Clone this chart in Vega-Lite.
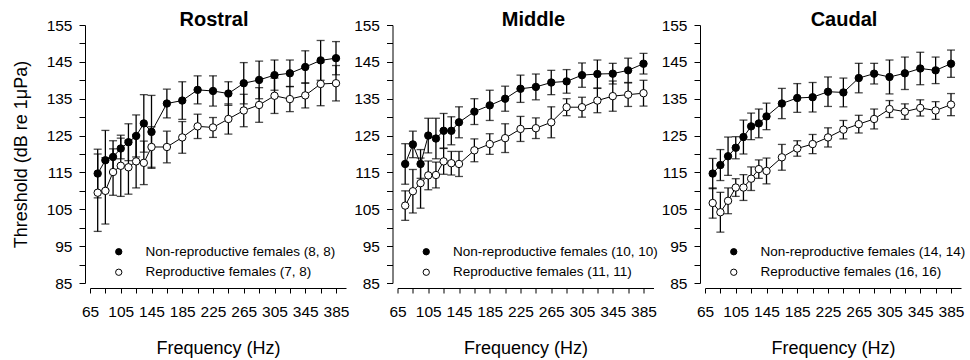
{
"$schema": "https://vega.github.io/schema/vega-lite/v6.json",
"background": "white",
"padding": {"left": 12, "top": 10, "right": 0, "bottom": 0},
"bounds": "flush",
"spacing": 51.5,
"config": {
  "view": {"stroke": null},
  "font": "Liberation Sans",
  "axis": {"grid": false, "domainColor": "black", "tickColor": "black", "labelColor": "black", "titleColor": "black", "labelFont": "Liberation Sans", "titleFont": "Liberation Sans", "labelFontSize": 15.5, "titleFontSize": 18, "titleFontWeight": "normal", "tickSize": 5, "domainWidth": 1, "tickWidth": 1, "offset": 5},
  "axisX": {"labelPadding": 11, "titlePadding": 20},
  "axisY": {"labelPadding": 7, "titlePadding": 15.5, "tickSize": 6},
  "title": {"font": "Liberation Sans", "fontSize": 20, "fontWeight": "bold", "color": "black", "frame": "group", "anchor": "middle", "offset": -12},
  "legend": {"orient": "none", "legendX": 22, "legendY": 220, "title": null, "symbolType": "circle", "symbolSize": 40, "symbolStrokeColor": "black", "symbolStrokeWidth": 1, "labelFontSize": 13.5, "labelFont": "Liberation Sans", "labelColor": "black", "labelOffset": 20, "rowPadding": 5.5, "padding": 0, "labelLimit": 400}
},
"datasets": {
  "rostral": [
    {"freq":75,"group":"Non-reproductive females","mean":114.7,"se":6.6},
    {"freq":85,"group":"Non-reproductive females","mean":118.3,"se":8.1},
    {"freq":95,"group":"Non-reproductive females","mean":119.2,"se":4.4},
    {"freq":105,"group":"Non-reproductive females","mean":121.5,"se":2.8},
    {"freq":115,"group":"Non-reproductive females","mean":123.2,"se":5.0},
    {"freq":125,"group":"Non-reproductive females","mean":124.9,"se":5.7},
    {"freq":135,"group":"Non-reproductive females","mean":128.3,"se":7.8},
    {"freq":145,"group":"Non-reproductive females","mean":126.0,"se":9.9},
    {"freq":165,"group":"Non-reproductive females","mean":133.7,"se":3.9},
    {"freq":185,"group":"Non-reproductive females","mean":134.5,"se":5.1},
    {"freq":205,"group":"Non-reproductive females","mean":137.4,"se":3.8},
    {"freq":225,"group":"Non-reproductive females","mean":137.1,"se":4.1},
    {"freq":245,"group":"Non-reproductive females","mean":136.4,"se":3.2},
    {"freq":265,"group":"Non-reproductive females","mean":139.2,"se":5.6},
    {"freq":285,"group":"Non-reproductive females","mean":140.1,"se":5.1},
    {"freq":305,"group":"Non-reproductive females","mean":141.4,"se":4.1},
    {"freq":325,"group":"Non-reproductive females","mean":141.9,"se":3.6},
    {"freq":345,"group":"Non-reproductive females","mean":143.6,"se":4.4},
    {"freq":365,"group":"Non-reproductive females","mean":145.4,"se":5.4},
    {"freq":385,"group":"Non-reproductive females","mean":146.0,"se":4.5},
    {"freq":75,"group":"Reproductive females","mean":109.5,"se":10.5},
    {"freq":85,"group":"Reproductive females","mean":110.0,"se":9.0},
    {"freq":95,"group":"Reproductive females","mean":115.1,"se":6.3},
    {"freq":105,"group":"Reproductive females","mean":116.8,"se":8.3},
    {"freq":115,"group":"Reproductive females","mean":116.4,"se":7.3},
    {"freq":125,"group":"Reproductive females","mean":118.0,"se":7.2},
    {"freq":135,"group":"Reproductive females","mean":117.6,"se":5.9},
    {"freq":145,"group":"Reproductive females","mean":121.9,"se":5.5},
    {"freq":165,"group":"Reproductive females","mean":121.9,"se":4.3},
    {"freq":185,"group":"Reproductive females","mean":124.5,"se":4.3},
    {"freq":205,"group":"Reproductive females","mean":127.5,"se":3.3},
    {"freq":225,"group":"Reproductive females","mean":127.2,"se":2.7},
    {"freq":245,"group":"Reproductive females","mean":129.5,"se":4.1},
    {"freq":265,"group":"Reproductive females","mean":131.8,"se":4.4},
    {"freq":285,"group":"Reproductive females","mean":133.3,"se":4.7},
    {"freq":305,"group":"Reproductive females","mean":135.8,"se":4.8},
    {"freq":325,"group":"Reproductive females","mean":134.9,"se":3.4},
    {"freq":345,"group":"Reproductive females","mean":135.9,"se":3.4},
    {"freq":365,"group":"Reproductive females","mean":139.0,"se":5.9},
    {"freq":385,"group":"Reproductive females","mean":139.2,"se":4.8}
  ],
  "middle": [
    {"freq":75,"group":"Non-reproductive females","mean":117.3,"se":5.5},
    {"freq":85,"group":"Non-reproductive females","mean":122.6,"se":3.6},
    {"freq":95,"group":"Non-reproductive females","mean":117.3,"se":3.9},
    {"freq":105,"group":"Non-reproductive females","mean":125.0,"se":4.7},
    {"freq":115,"group":"Non-reproductive females","mean":124.2,"se":5.5},
    {"freq":125,"group":"Non-reproductive females","mean":126.3,"se":4.7},
    {"freq":135,"group":"Non-reproductive females","mean":126.3,"se":3.8},
    {"freq":145,"group":"Non-reproductive females","mean":128.6,"se":4.2},
    {"freq":165,"group":"Non-reproductive females","mean":131.5,"se":3.5},
    {"freq":185,"group":"Non-reproductive females","mean":133.2,"se":4.1},
    {"freq":205,"group":"Non-reproductive females","mean":135.0,"se":3.4},
    {"freq":225,"group":"Non-reproductive females","mean":137.7,"se":3.7},
    {"freq":245,"group":"Non-reproductive females","mean":138.2,"se":3.5},
    {"freq":265,"group":"Non-reproductive females","mean":139.4,"se":3.3},
    {"freq":285,"group":"Non-reproductive females","mean":139.7,"se":3.2},
    {"freq":305,"group":"Non-reproductive females","mean":141.4,"se":3.3},
    {"freq":325,"group":"Non-reproductive females","mean":141.7,"se":3.8},
    {"freq":345,"group":"Non-reproductive females","mean":141.8,"se":2.8},
    {"freq":365,"group":"Non-reproductive females","mean":142.7,"se":3.3},
    {"freq":385,"group":"Non-reproductive females","mean":144.5,"se":2.8},
    {"freq":75,"group":"Reproductive females","mean":106.0,"se":4.0},
    {"freq":85,"group":"Reproductive females","mean":109.9,"se":5.9},
    {"freq":95,"group":"Reproductive females","mean":112.1,"se":6.8},
    {"freq":105,"group":"Reproductive females","mean":114.2,"se":3.9},
    {"freq":115,"group":"Reproductive females","mean":114.3,"se":3.5},
    {"freq":125,"group":"Reproductive females","mean":118.0,"se":3.5},
    {"freq":135,"group":"Reproductive females","mean":117.5,"se":3.2},
    {"freq":145,"group":"Reproductive females","mean":117.3,"se":3.4},
    {"freq":165,"group":"Reproductive females","mean":121.0,"se":3.1},
    {"freq":185,"group":"Reproductive females","mean":122.7,"se":2.8},
    {"freq":205,"group":"Reproductive females","mean":124.3,"se":3.9},
    {"freq":225,"group":"Reproductive females","mean":126.8,"se":3.4},
    {"freq":245,"group":"Reproductive females","mean":127.0,"se":2.8},
    {"freq":265,"group":"Reproductive females","mean":128.6,"se":4.2},
    {"freq":285,"group":"Reproductive females","mean":132.7,"se":2.3},
    {"freq":305,"group":"Reproductive females","mean":132.7,"se":2.7},
    {"freq":325,"group":"Reproductive females","mean":134.5,"se":3.3},
    {"freq":345,"group":"Reproductive females","mean":135.7,"se":4.1},
    {"freq":365,"group":"Reproductive females","mean":136.1,"se":3.2},
    {"freq":385,"group":"Reproductive females","mean":136.5,"se":3.5}
  ],
  "caudal": [
    {"freq":75,"group":"Non-reproductive females","mean":114.7,"se":4.1},
    {"freq":85,"group":"Non-reproductive females","mean":117.0,"se":4.2},
    {"freq":95,"group":"Non-reproductive females","mean":119.4,"se":5.2},
    {"freq":105,"group":"Non-reproductive females","mean":121.7,"se":3.0},
    {"freq":115,"group":"Non-reproductive females","mean":124.6,"se":4.6},
    {"freq":125,"group":"Non-reproductive females","mean":127.5,"se":3.6},
    {"freq":135,"group":"Non-reproductive females","mean":128.3,"se":3.9},
    {"freq":145,"group":"Non-reproductive females","mean":130.2,"se":3.6},
    {"freq":165,"group":"Non-reproductive females","mean":133.7,"se":4.1},
    {"freq":185,"group":"Non-reproductive females","mean":135.2,"se":3.9},
    {"freq":205,"group":"Non-reproductive females","mean":135.4,"se":4.0},
    {"freq":225,"group":"Non-reproductive females","mean":136.9,"se":4.0},
    {"freq":245,"group":"Non-reproductive females","mean":136.7,"se":3.9},
    {"freq":265,"group":"Non-reproductive females","mean":140.6,"se":4.0},
    {"freq":285,"group":"Non-reproductive females","mean":141.8,"se":2.8},
    {"freq":305,"group":"Non-reproductive females","mean":140.9,"se":4.6},
    {"freq":325,"group":"Non-reproductive females","mean":141.9,"se":4.4},
    {"freq":345,"group":"Non-reproductive females","mean":143.2,"se":4.4},
    {"freq":365,"group":"Non-reproductive females","mean":142.7,"se":3.6},
    {"freq":385,"group":"Non-reproductive females","mean":144.5,"se":3.7},
    {"freq":75,"group":"Reproductive females","mean":106.7,"se":4.1},
    {"freq":85,"group":"Reproductive females","mean":104.2,"se":5.4},
    {"freq":95,"group":"Reproductive females","mean":107.3,"se":3.5},
    {"freq":105,"group":"Reproductive females","mean":110.9,"se":2.4},
    {"freq":115,"group":"Reproductive females","mean":110.9,"se":3.5},
    {"freq":125,"group":"Reproductive females","mean":113.3,"se":3.2},
    {"freq":135,"group":"Reproductive females","mean":115.9,"se":2.5},
    {"freq":145,"group":"Reproductive females","mean":115.4,"se":3.5},
    {"freq":165,"group":"Reproductive females","mean":119.1,"se":3.5},
    {"freq":185,"group":"Reproductive females","mean":121.5,"se":2.1},
    {"freq":205,"group":"Reproductive females","mean":122.7,"se":2.6},
    {"freq":225,"group":"Reproductive females","mean":124.5,"se":2.6},
    {"freq":245,"group":"Reproductive females","mean":126.6,"se":2.5},
    {"freq":265,"group":"Reproductive females","mean":128.1,"se":2.4},
    {"freq":285,"group":"Reproductive females","mean":129.5,"se":2.7},
    {"freq":305,"group":"Reproductive females","mean":132.2,"se":2.3},
    {"freq":325,"group":"Reproductive females","mean":131.5,"se":2.1},
    {"freq":345,"group":"Reproductive females","mean":132.5,"se":2.2},
    {"freq":365,"group":"Reproductive females","mean":131.8,"se":2.4},
    {"freq":385,"group":"Reproductive females","mean":133.4,"se":3.0}
  ]
},
"hconcat": [
  {
    "title": {"text": "Rostral", "dx": -4},
    "width": 256, "height": 258,
    "data": {"name": "rostral"},
    "encoding": {
      "x": {"field": "freq", "type": "quantitative", "scale": {"domain": [65, 398], "nice": false, "zero": false}, "axis": {"values": [65,85,105,125,145,165,185,205,225,245,265,285,305,325,345,365,385], "labelExpr": "(datum.value - 65) % 40 == 0 ? datum.label : ''", "title": "Frequency (Hz)", "labelFlush": false, "labelOverlap": false}},
      "y": {"field": "mean", "type": "quantitative", "scale": {"domain": [85, 155], "nice": false, "zero": false}, "axis": {"values": [85,90,95,100,105,110,115,120,125,130,135,140,145,150,155], "labelExpr": "datum.value % 10 == 5 ? datum.label : ''", "title": "Threshold (dB re 1μPa)", "labelOverlap": false}}
    },
    "layer": [
      {"mark": {"type": "errorbar", "ticks": true, "size": 8, "thickness": 1.3, "color": "black"}, "encoding": {"yError": {"field": "se"}, "detail": {"field": "group"}}},
      {"mark": {"type": "line", "color": "black", "strokeWidth": 1}, "encoding": {"detail": {"field": "group"}}},
      {"mark": {"type": "point", "filled": true, "size": 55, "stroke": "black", "strokeWidth": 1, "opacity": 1}, "encoding": {"fill": {"field": "group", "type": "nominal", "scale": {"domain": ["Non-reproductive females", "Reproductive females"], "range": ["black", "white"]}, "legend": {"labelExpr": "datum.label == 'Non-reproductive females' ? 'Non-reproductive females (8, 8)' : 'Reproductive females (7, 8)'"}}}}
    ]
  },
  {
    "title": {"text": "Middle", "dx": 8},
    "width": 256, "height": 258,
    "data": {"name": "middle"},
    "encoding": {
      "x": {"field": "freq", "type": "quantitative", "scale": {"domain": [65, 398], "nice": false, "zero": false}, "axis": {"values": [65,85,105,125,145,165,185,205,225,245,265,285,305,325,345,365,385], "labelExpr": "(datum.value - 65) % 40 == 0 ? datum.label : ''", "title": "Frequency (Hz)", "labelFlush": false, "labelOverlap": false}},
      "y": {"field": "mean", "type": "quantitative", "scale": {"domain": [85, 155], "nice": false, "zero": false}, "axis": {"values": [85,90,95,100,105,110,115,120,125,130,135,140,145,150,155], "labelExpr": "datum.value % 10 == 5 ? datum.label : ''", "title": null, "labelOverlap": false}}
    },
    "layer": [
      {"mark": {"type": "errorbar", "ticks": true, "size": 8, "thickness": 1.3, "color": "black"}, "encoding": {"yError": {"field": "se"}, "detail": {"field": "group"}}},
      {"mark": {"type": "line", "color": "black", "strokeWidth": 1}, "encoding": {"detail": {"field": "group"}}},
      {"mark": {"type": "point", "filled": true, "size": 55, "stroke": "black", "strokeWidth": 1, "opacity": 1}, "encoding": {"fill": {"field": "group", "type": "nominal", "scale": {"domain": ["Non-reproductive females", "Reproductive females"], "range": ["black", "white"]}, "legend": {"labelExpr": "datum.label == 'Non-reproductive females' ? 'Non-reproductive females (10, 10)' : 'Reproductive females (11, 11)'"}}}}
    ]
  },
  {
    "title": {"text": "Caudal", "dx": 11},
    "width": 256, "height": 258,
    "data": {"name": "caudal"},
    "encoding": {
      "x": {"field": "freq", "type": "quantitative", "scale": {"domain": [65, 398], "nice": false, "zero": false}, "axis": {"values": [65,85,105,125,145,165,185,205,225,245,265,285,305,325,345,365,385], "labelExpr": "(datum.value - 65) % 40 == 0 ? datum.label : ''", "title": "Frequency (Hz)", "labelFlush": false, "labelOverlap": false}},
      "y": {"field": "mean", "type": "quantitative", "scale": {"domain": [85, 155], "nice": false, "zero": false}, "axis": {"values": [85,90,95,100,105,110,115,120,125,130,135,140,145,150,155], "labelExpr": "datum.value % 10 == 5 ? datum.label : ''", "title": null, "labelOverlap": false}}
    },
    "layer": [
      {"mark": {"type": "errorbar", "ticks": true, "size": 8, "thickness": 1.3, "color": "black"}, "encoding": {"yError": {"field": "se"}, "detail": {"field": "group"}}},
      {"mark": {"type": "line", "color": "black", "strokeWidth": 1}, "encoding": {"detail": {"field": "group"}}},
      {"mark": {"type": "point", "filled": true, "size": 55, "stroke": "black", "strokeWidth": 1, "opacity": 1}, "encoding": {"fill": {"field": "group", "type": "nominal", "scale": {"domain": ["Non-reproductive females", "Reproductive females"], "range": ["black", "white"]}, "legend": {"labelExpr": "datum.label == 'Non-reproductive females' ? 'Non-reproductive females (14, 14)' : 'Reproductive females (16, 16)'"}}}}
    ]
  }
],
"resolve": {"scale": {"fill": "independent"}, "legend": {"fill": "independent"}}
}
